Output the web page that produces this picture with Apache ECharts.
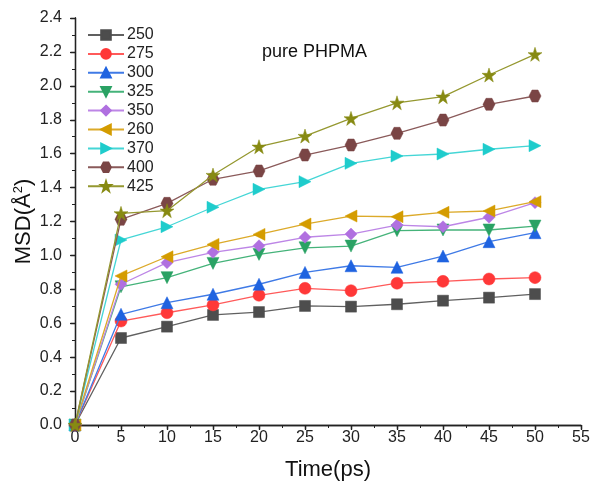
<!DOCTYPE html>
<html>
<head>
<meta charset="utf-8">
<script src="https://cdn.jsdelivr.net/npm/echarts@6/dist/echarts.min.js"></script>
<style>
  html, body { margin: 0; padding: 0; background: #fff; }
  #chart { width: 595px; height: 490px; }
</style>
</head>
<body>
<div id="chart"></div>
<script>
// Time points (ps)
const times = [0, 5, 10, 15, 20, 25, 30, 35, 40, 45, 50];

// MSD values (Å²) for each temperature series
const msd250 = [0, 0.513, 0.580, 0.649, 0.666, 0.702, 0.698, 0.712, 0.733, 0.751, 0.772];
const msd275 = [0, 0.613, 0.662, 0.708, 0.765, 0.806, 0.792, 0.836, 0.847, 0.861, 0.869];
const msd300 = [0, 0.653, 0.721, 0.771, 0.830, 0.900, 0.939, 0.930, 0.996, 1.081, 1.134];
const msd325 = [0, 0.815, 0.869, 0.953, 1.006, 1.045, 1.055, 1.146, 1.150, 1.150, 1.173];
const msd350 = [0, 0.830, 0.957, 1.018, 1.057, 1.107, 1.126, 1.179, 1.169, 1.225, 1.311];
const msd260 = [0, 0.879, 0.992, 1.065, 1.124, 1.185, 1.232, 1.228, 1.254, 1.262, 1.317];
const msd370 = [0, 1.091, 1.169, 1.284, 1.390, 1.435, 1.543, 1.586, 1.598, 1.626, 1.647];
const msd400 = [0, 1.213, 1.307, 1.449, 1.498, 1.592, 1.651, 1.720, 1.798, 1.891, 1.940];
const msd425 = [0, 1.248, 1.264, 1.474, 1.641, 1.704, 1.808, 1.900, 1.936, 2.064, 2.186];

const seriesNames = ['250', '275', '300', '325', '350', '260', '370', '400', '425'];
const seriesValues = [msd250, msd275, msd300, msd325, msd350, msd260, msd370, msd400, msd425];

// Styling per series
const colors = ['#4d4d4d', '#ff3838', '#1f63e0', '#2aa264', '#b070e0', '#d49c00', '#1fcccc', '#7a4545', '#878a12'];
const lineColors = ['#606060', '#ff5a5a', '#3f7ae6', '#45b37a', '#bd86e6', '#dcaa2a', '#45d6d6', '#8a5a5a', '#959830'];
const starPath = 'path://M50,0 L61.8,35.4 L100,35.4 L69.1,57.3 L80.9,92.7 L50,70.8 L19.1,92.7 L30.9,57.3 L0,35.4 L38.2,35.4 Z';
const hexPath = 'path://M25,0 L75,0 L100,50 L75,100 L25,100 L0,50 Z';
const symbols = ['rect', 'circle', 'triangle', 'triangle', 'diamond', 'triangle', 'triangle', hexPath, starPath];
const rotations = [0, 0, 0, 180, 0, 90, -90, 0, 0];
const sizes = [11, 12, 12, 12, 12, 12, 12, 12, 14];

const series = seriesNames.map((name, i) => ({
  name: name,
  type: 'line',
  data: times.map((t, j) => [t, seriesValues[i][j]]),
  symbol: symbols[i],
  symbolRotate: rotations[i],
  symbolSize: sizes[i],
  showAllSymbol: true,
  lineStyle: { color: lineColors[i], width: 1.3 },
  itemStyle: { color: colors[i], borderColor: colors[i], borderWidth: 0.5 },
  emphasis: { disabled: true },
  z: 2 + i
}));

const chart = echarts.init(document.getElementById('chart'), null, { renderer: 'canvas' });

const FONT = 'Liberation Sans, Arial, sans-serif';
const axisFont = { fontFamily: FONT, fontSize: 16, color: '#222' };

chart.setOption({
  animation: false,
  backgroundColor: '#fff',
  grid: { left: 75, top: 18, right: 14, bottom: 65 },
  legend: {
    left: 82,
    top: 22,
    orient: 'vertical',
    itemWidth: 36,
    itemHeight: 12,
    itemGap: 2.9,
    textStyle: { fontFamily: FONT, fontSize: 16, color: '#222', padding: [0, 0, 0, -2] },
    data: seriesNames
  },
  graphic: [{
    type: 'text',
    x: 262,
    y: 52,
    style: { text: 'pure PHPMA', font: '18px "Liberation Sans", Arial, sans-serif', fill: '#111', verticalAlign: 'middle' }
  }],
  xAxis: [{
    type: 'value',
    min: 0, max: 55, interval: 5,
    name: 'Time(ps)',
    nameLocation: 'middle',
    nameGap: 34,
    nameTextStyle: { fontFamily: FONT, fontSize: 22, color: '#111' },
    axisLine: { lineStyle: { color: '#222', width: 1.3 } },
    axisTick: { show: true, inside: false, length: 5, lineStyle: { color: '#222', width: 1.3 } },
    minorTick: { show: true, splitNumber: 2, length: 3, lineStyle: { color: '#222', width: 1 } },
    axisLabel: Object.assign({ margin: 5 }, axisFont),
    splitLine: { show: false }
  }, {
    type: 'value',
    position: 'top',
    min: 0, max: 55, interval: 5,
    axisLine: { show: true, lineStyle: { color: '#222', width: 1.3 } },
    axisTick: { show: true, inside: true, length: 4, lineStyle: { color: '#222', width: 1.3 } },
    axisLabel: { show: false },
    splitLine: { show: false }
  }],
  yAxis: [{
    type: 'value',
    min: 0, max: 2.4, interval: 0.2,
    name: '{a|MSD(Å}{s|2}{a|)}',
    nameLocation: 'middle',
    nameGap: 40,
    nameMoveOverlap: false,
    nameTextStyle: {
      rich: {
        a: { fontFamily: FONT, fontSize: 22, color: '#111' },
        s: { fontFamily: FONT, fontSize: 13, color: '#111', verticalAlign: 'top', padding: [0, 0, 10, 0] }
      }
    },
    axisLine: { show: true, lineStyle: { color: '#222', width: 1.3 } },
    axisTick: { show: true, inside: false, length: 5, lineStyle: { color: '#222', width: 1.3 } },
    minorTick: { show: true, splitNumber: 2, length: 3, lineStyle: { color: '#222', width: 1 } },
    axisLabel: Object.assign({ margin: 13, formatter: v => v.toFixed(1) }, axisFont),
    splitLine: { show: false }
  }, {
    type: 'value',
    position: 'right',
    min: 0, max: 2.4, interval: 0.2,
    axisLine: { show: true, lineStyle: { color: '#222', width: 1.3 } },
    axisTick: { show: true, inside: true, length: 4, lineStyle: { color: '#222', width: 1.3 } },
    axisLabel: { show: false },
    splitLine: { show: false }
  }],
  series: series
});
</script>
</body>
</html>
